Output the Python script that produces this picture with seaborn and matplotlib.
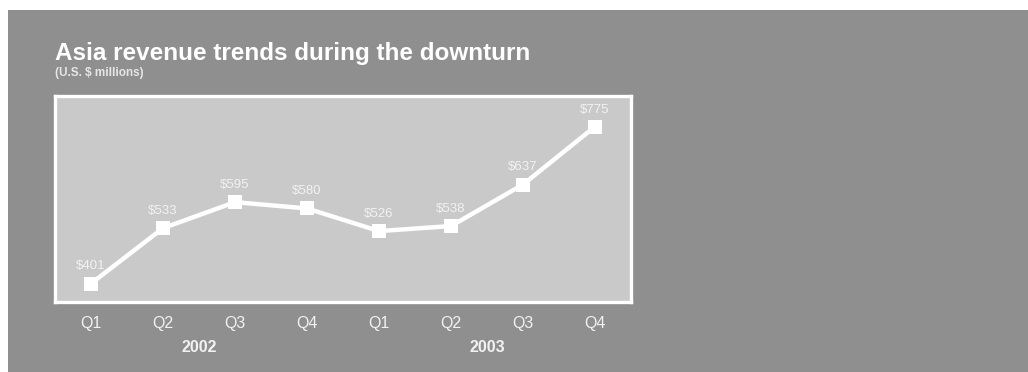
import matplotlib
matplotlib.use("Agg")
import matplotlib.pyplot as plt
import matplotlib.transforms as mtransforms
from matplotlib.patches import Rectangle
import seaborn as sns
import pandas as pd

quarters = ["Q1", "Q2", "Q3", "Q4", "Q1", "Q2", "Q3", "Q4"]
years = ["2002", "2003"]
revenue = [401, 533, 595, 580, 526, 538, 637, 775]

BG = "#8f8f8f"
PANEL = "#c9c9c9"
TXT = "#f2f2f2"

sns.set_theme(style="white")
plt.rcParams['font.family'] = ['Liberation Sans', 'DejaVu Sans']

df = pd.DataFrame({"pos": range(len(revenue)), "revenue": revenue})

fig = plt.figure(figsize=(10.28, 3.72), dpi=100, facecolor="white")
fig.patches.append(Rectangle((8 / 1028, 0), 1, 1 - 10 / 372, transform=fig.transFigure,
                             facecolor=BG, edgecolor="none", zorder=-10))

ax = fig.add_axes([55 / 1028, 1 - 302 / 372, (631 - 55) / 1028, (302 - 96) / 372])
ax.set_facecolor(PANEL)

sns.lineplot(data=df, x="pos", y="revenue", ax=ax, color="white", linewidth=3.2,
             marker="s", markersize=10, markeredgecolor="white", markeredgewidth=0)

for x, v in zip(df["pos"], df["revenue"]):
    ax.annotate(f"${v}", (x, v), xytext=(0, 8), textcoords="offset points",
                ha="center", va="bottom", color=TXT, fontsize=9.5)

ax.set_xlim(-0.5, len(revenue) - 0.5)
ax.set_ylim(357, 848)
ax.set_xticks(range(len(quarters)))
ax.set_xticklabels(quarters, color=TXT, fontsize=11.5)
ax.tick_params(axis="x", length=0, pad=10)
ax.set_yticks([])
ax.set_xlabel("")
ax.set_ylabel("")
for s in ax.spines.values():
    s.set_color("white")
    s.set_linewidth(2.4)

trans = mtransforms.blended_transform_factory(ax.transData, fig.transFigure)
for i, yr in enumerate(years):
    ax.text(1.5 + 4 * i, 1 - 347 / 372, yr, transform=trans, ha="center", va="center",
            color=TXT, fontsize=11.5, fontweight="bold")

fig.text(55 / 1028, 1 - 60 / 372, "Asia revenue trends during the downturn",
         color="white", fontsize=17.5, fontweight="bold", va="baseline", ha="left")
fig.text(55 / 1028, 1 - 76 / 372, "(U.S. $ millions)",
         color="#e6e6e6", fontsize=8.5, fontweight="bold", va="baseline", ha="left")

fig.savefig("out.png", dpi=100, facecolor=fig.get_facecolor())
